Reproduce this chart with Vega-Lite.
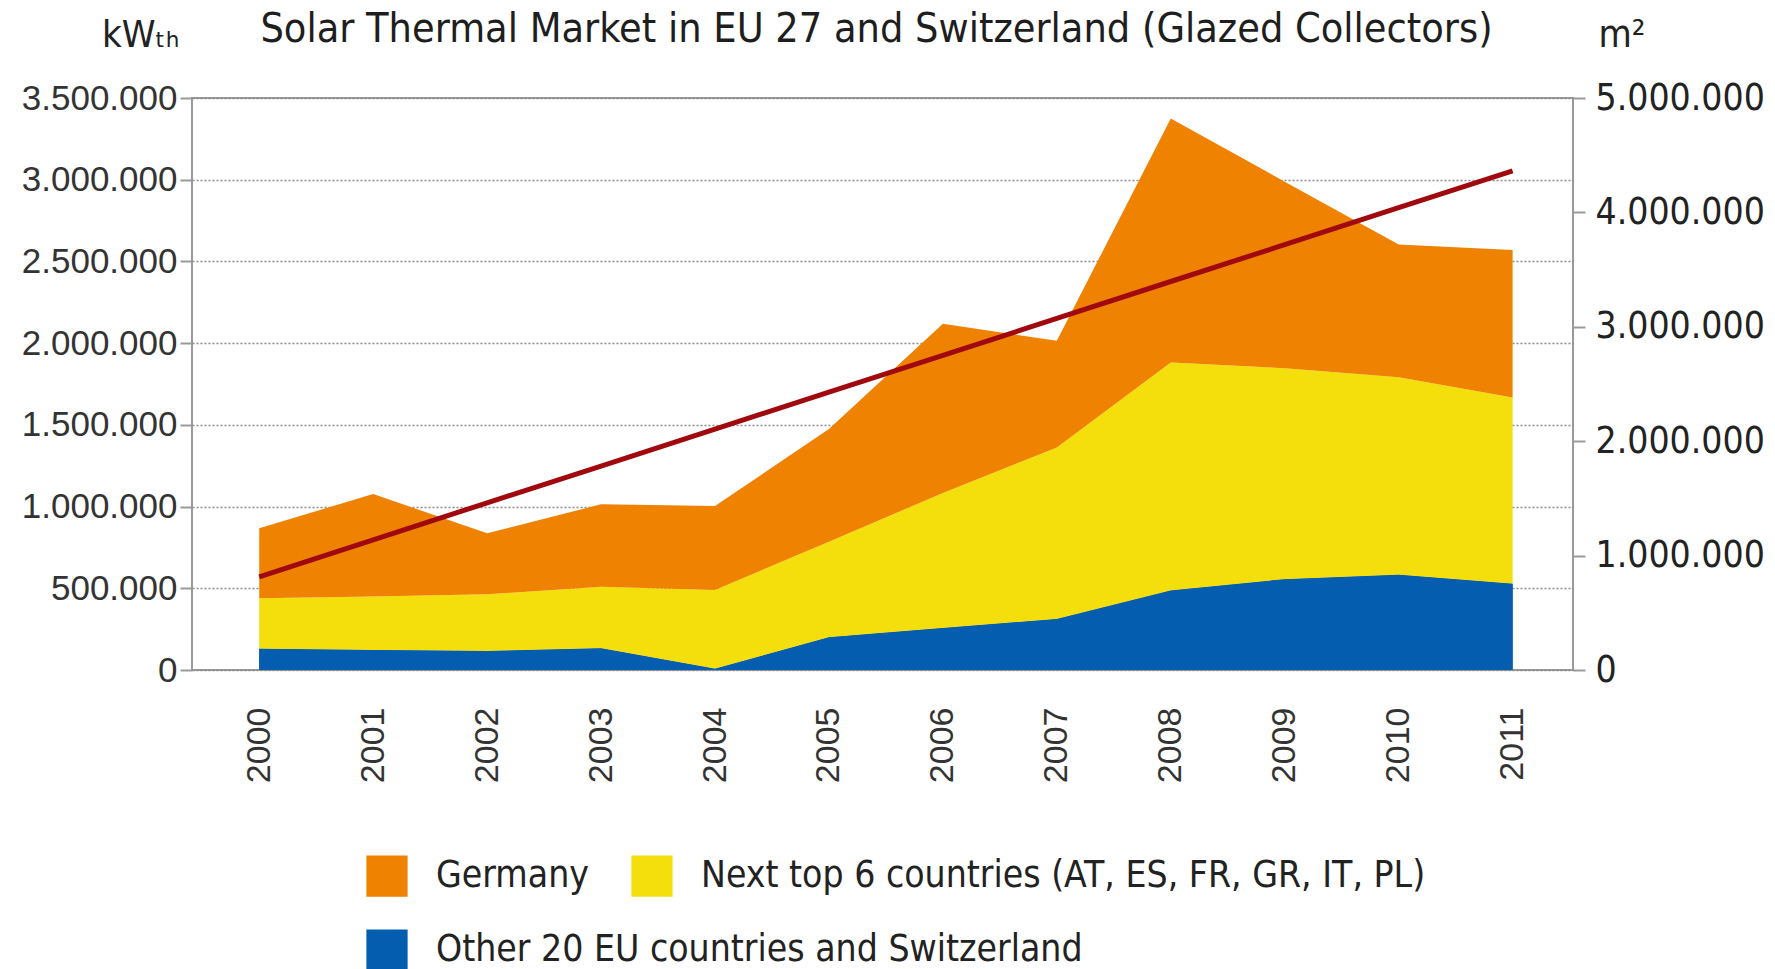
{
  "$schema": "https://vega.github.io/schema/vega-lite/v6.json",
  "width": 1381,
  "height": 572,
  "autosize": {"type": "none"},
  "padding": {"left": 192, "top": 98, "right": 202, "bottom": 299},
  "background": "white",
  "config": {
    "locale": {"number": {"decimal": ",", "thousands": ".", "grouping": [3], "currency": ["", " €"]}},
    "view": {"stroke": "#9a9a9a", "strokeWidth": 2}
  },
  "title": {
    "text": "Solar Thermal Market in EU 27 and Switzerland (Glazed Collectors)",
    "anchor": "middle",
    "frame": "group",
    "font": "DejaVu Sans Condensed, Liberation Sans Narrow, Roboto, sans-serif",
    "fontSize": 41,
    "fontWeight": "normal",
    "color": "#1e1e1e",
    "offset": 10,
    "dx": -6,
    "dy": 45
  },
  "datasets": {
    "market": [
      {"year": 2000, "group": "Other 20 EU countries and Switzerland", "ord": 1, "kWth": 130000},
      {"year": 2001, "group": "Other 20 EU countries and Switzerland", "ord": 1, "kWth": 122000},
      {"year": 2002, "group": "Other 20 EU countries and Switzerland", "ord": 1, "kWth": 116000},
      {"year": 2003, "group": "Other 20 EU countries and Switzerland", "ord": 1, "kWth": 133000},
      {"year": 2004, "group": "Other 20 EU countries and Switzerland", "ord": 1, "kWth": 8000},
      {"year": 2005, "group": "Other 20 EU countries and Switzerland", "ord": 1, "kWth": 201000},
      {"year": 2006, "group": "Other 20 EU countries and Switzerland", "ord": 1, "kWth": 257000},
      {"year": 2007, "group": "Other 20 EU countries and Switzerland", "ord": 1, "kWth": 312000},
      {"year": 2008, "group": "Other 20 EU countries and Switzerland", "ord": 1, "kWth": 486000},
      {"year": 2009, "group": "Other 20 EU countries and Switzerland", "ord": 1, "kWth": 556000},
      {"year": 2010, "group": "Other 20 EU countries and Switzerland", "ord": 1, "kWth": 583000},
      {"year": 2011, "group": "Other 20 EU countries and Switzerland", "ord": 1, "kWth": 528000},
      {"year": 2000, "group": "Next top 6 countries (AT, ES, FR, GR, IT, PL)", "ord": 2, "kWth": 309000},
      {"year": 2001, "group": "Next top 6 countries (AT, ES, FR, GR, IT, PL)", "ord": 2, "kWth": 327000},
      {"year": 2002, "group": "Next top 6 countries (AT, ES, FR, GR, IT, PL)", "ord": 2, "kWth": 347000},
      {"year": 2003, "group": "Next top 6 countries (AT, ES, FR, GR, IT, PL)", "ord": 2, "kWth": 377000},
      {"year": 2004, "group": "Next top 6 countries (AT, ES, FR, GR, IT, PL)", "ord": 2, "kWth": 482000},
      {"year": 2005, "group": "Next top 6 countries (AT, ES, FR, GR, IT, PL)", "ord": 2, "kWth": 584000},
      {"year": 2006, "group": "Next top 6 countries (AT, ES, FR, GR, IT, PL)", "ord": 2, "kWth": 826000},
      {"year": 2007, "group": "Next top 6 countries (AT, ES, FR, GR, IT, PL)", "ord": 2, "kWth": 1049000},
      {"year": 2008, "group": "Next top 6 countries (AT, ES, FR, GR, IT, PL)", "ord": 2, "kWth": 1396000},
      {"year": 2009, "group": "Next top 6 countries (AT, ES, FR, GR, IT, PL)", "ord": 2, "kWth": 1291000},
      {"year": 2010, "group": "Next top 6 countries (AT, ES, FR, GR, IT, PL)", "ord": 2, "kWth": 1209000},
      {"year": 2011, "group": "Next top 6 countries (AT, ES, FR, GR, IT, PL)", "ord": 2, "kWth": 1139000},
      {"year": 2000, "group": "Germany", "ord": 3, "kWth": 428000},
      {"year": 2001, "group": "Germany", "ord": 3, "kWth": 628000},
      {"year": 2002, "group": "Germany", "ord": 3, "kWth": 373000},
      {"year": 2003, "group": "Germany", "ord": 3, "kWth": 504000},
      {"year": 2004, "group": "Germany", "ord": 3, "kWth": 513000},
      {"year": 2005, "group": "Germany", "ord": 3, "kWth": 690000},
      {"year": 2006, "group": "Germany", "ord": 3, "kWth": 1035000},
      {"year": 2007, "group": "Germany", "ord": 3, "kWth": 653000},
      {"year": 2008, "group": "Germany", "ord": 3, "kWth": 1493000},
      {"year": 2009, "group": "Germany", "ord": 3, "kWth": 1141000},
      {"year": 2010, "group": "Germany", "ord": 3, "kWth": 812000},
      {"year": 2011, "group": "Germany", "ord": 3, "kWth": 903000}
    ],
    "area": [
      {"year": 2000, "m2": 815000},
      {"year": 2001, "m2": 1138000},
      {"year": 2002, "m2": 1461000},
      {"year": 2003, "m2": 1783000},
      {"year": 2004, "m2": 2106000},
      {"year": 2005, "m2": 2428000},
      {"year": 2006, "m2": 2751000},
      {"year": 2007, "m2": 3073000},
      {"year": 2008, "m2": 3396000},
      {"year": 2009, "m2": 3718000},
      {"year": 2010, "m2": 4041000},
      {"year": 2011, "m2": 4364000}
    ]
  },
  "layer": [
    {
      "layer": [
        {
          "data": {"name": "market"},
          "mark": {"type": "area", "opacity": 1},
          "encoding": {
            "x": {
              "field": "year",
              "type": "quantitative",
              "scale": {"domain": [1999.41, 2011.53], "nice": false, "zero": false},
              "axis": {
                "values": [2000, 2001, 2002, 2003, 2004, 2005, 2006, 2007, 2008, 2009, 2010, 2011],
                "format": "d",
                "labelAngle": 270,
                "labelAlign": "right",
                "labelBaseline": "middle",
                "labelPadding": 37,
                "ticks": false,
                "domain": false,
                "grid": false,
                "title": null,
                "labelFont": "Liberation Sans",
                "labelFontSize": 34,
                "labelColor": "#333333"
              }
            },
            "y": {
              "field": "kWth",
              "type": "quantitative",
              "stack": "zero",
              "scale": {"domain": [0, 3500000], "nice": false},
              "axis": {
                "orient": "left",
                "values": [0, 500000, 1000000, 1500000, 2000000, 2500000, 3000000, 3500000],
                "format": ",d",
                "labelFont": "Liberation Sans",
                "labelFontSize": 35,
                "labelColor": "#333333",
                "tickSize": 12,
                "tickColor": "#9a9a9a",
                "tickWidth": 2,
                "labelPadding": 3,
                "domain": false,
                "grid": true,
                "gridColor": "#8a8a8a",
                "gridDash": [2, 2],
                "gridWidth": 1.5,
                "title": "kWₜₕ",
                "titleAngle": 0,
                "titleAlign": "right",
                "titleBaseline": "alphabetic",
                "titleX": -13,
                "titleY": -52,
                "titleFont": "DejaVu Sans Condensed, Liberation Sans Narrow, Roboto, sans-serif",
                "titleFontSize": 38,
                "titleFontWeight": "normal",
                "titleColor": "#222222"
              }
            },
            "color": {
              "field": "group",
              "type": "nominal",
              "scale": {
                "domain": ["Germany", "Next top 6 countries (AT, ES, FR, GR, IT, PL)", "Other 20 EU countries and Switzerland"],
                "range": ["#EF8200", "#F4DE0C", "#045DAE"]
              },
              "legend": {
                "orient": "none",
                "legendX": 174,
                "legendY": 757,
                "direction": "horizontal",
                "values": ["Germany", "Next top 6 countries (AT, ES, FR, GR, IT, PL)"],
                "padding": 0,
                "symbolType": "square",
                "symbolSize": 1700,
                "symbolStrokeWidth": 0,
                "symbolOpacity": 1,
                "labelFont": "DejaVu Sans Condensed, Liberation Sans Narrow, Roboto, sans-serif",
                "labelFontSize": 37,
                "labelColor": "#222222",
                "labelOffset": 28,
                "labelLimit": 0,
                "columnPadding": 42,
                "title": null
              }
            },
            "order": {"field": "ord", "type": "quantitative"}
          }
        },
        {
          "data": {"name": "market"},
          "transform": [{"filter": "datum.ord == 1"}],
          "mark": {"type": "area", "opacity": 1},
          "encoding": {
            "x": {"field": "year", "type": "quantitative"},
            "y": {"field": "kWth", "type": "quantitative"},
            "color": {
              "field": "group",
              "type": "nominal",
              "scale": {
                "domain": ["Other 20 EU countries and Switzerland"],
                "range": ["#045DAE"]
              },
              "legend": {
                "orient": "none",
                "legendX": 174,
                "legendY": 831,
                "direction": "horizontal",
                "padding": 0,
                "symbolType": "square",
                "symbolSize": 1700,
                "symbolStrokeWidth": 0,
                "symbolOpacity": 1,
                "labelFont": "DejaVu Sans Condensed, Liberation Sans Narrow, Roboto, sans-serif",
                "labelFontSize": 37,
                "labelColor": "#222222",
                "labelOffset": 28,
                "labelLimit": 0,
                "title": null
              }
            }
          }
        }
      ],
      "resolve": {"scale": {"color": "independent"}}
    },
    {
      "data": {"name": "area"},
      "mark": {"type": "line", "color": "#A00A0E", "strokeWidth": 5},
      "encoding": {
        "x": {"field": "year", "type": "quantitative"},
        "y": {
          "field": "m2",
          "type": "quantitative",
          "scale": {"domain": [0, 5000000], "nice": false},
          "axis": {
            "orient": "right",
            "values": [0, 1000000, 2000000, 3000000, 4000000, 5000000],
            "format": ",d",
            "grid": false,
            "domain": false,
            "tickSize": 12,
            "tickColor": "#9a9a9a",
            "tickWidth": 2,
            "labelPadding": 10,
            "labelFont": "DejaVu Sans Condensed, Liberation Sans Narrow, Roboto, sans-serif",
            "labelFontSize": 37,
            "labelColor": "#222222",
            "title": "m²",
            "titleAngle": 0,
            "titleAlign": "left",
            "titleBaseline": "alphabetic",
            "titleX": 25,
            "titleY": -52,
            "titleFont": "DejaVu Sans Condensed, Liberation Sans Narrow, Roboto, sans-serif",
            "titleFontSize": 38,
            "titleFontWeight": "normal",
            "titleColor": "#222222"
          }
        }
      }
    }
  ],
  "resolve": {"scale": {"y": "independent"}}
}
